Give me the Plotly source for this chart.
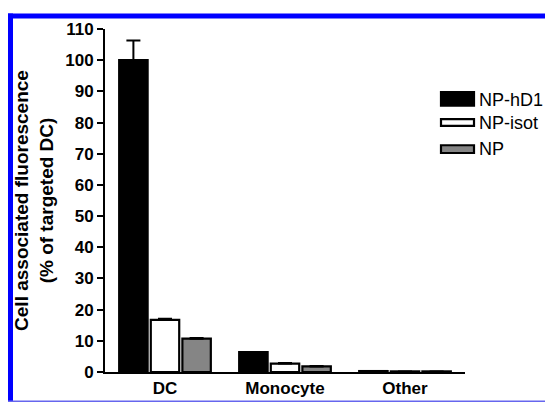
import plotly.graph_objects as go

categories = ["DC", "Monocyte", "Other"]
series_names = ["NP-hD1", "NP-isot", "NP"]
np_hd1 = [100.0, 6.4, 0.3]
np_isot = [16.7, 2.7, 0.2]
np_plain = [10.7, 1.8, 0.2]
err_hd1 = [6.3, 0.0, 0.0]
err_isot = [0.4, 0.2, 0.0]
err_plain = [0.2, 0.1, 0.0]
y_ticks = list(range(0, 111, 10))

values = [np_hd1, np_isot, np_plain]
errors = [err_hd1, err_isot, err_plain]
fills = ["#000000", "#ffffff", "#858585"]

# the page body has an 8px margin, so the figure starts at (8, 8) of the window
OFF = 8
W, H = 553 - OFF, 410 - OFF
PLOT_L, PLOT_R, PLOT_T, PLOT_B = 105, 465, 25, 379   # window pixels
ML, MR = PLOT_L - OFF, W - (PLOT_R - OFF)
MT, MB = PLOT_T - OFF, H - (PLOT_B - OFF)
PW, PH = W - ML - MR, H - MT - MB


def px_x(x):
    return (x - PLOT_L) / PW


def px_y(y):
    return (PLOT_B - y) / PH


fig = go.Figure()
for name, vals, err, col in zip(series_names, values, errors, fills):
    fig.add_trace(go.Bar(
        x=categories, y=vals, name=name,
        marker=dict(color=col, line=dict(color="#000000", width=2.2)),
        error_y=dict(type="data", array=err, arrayminus=[0] * len(err),
                     symmetric=False, color="#000000", thickness=2, width=7),
        showlegend=False,
    ))

# custom legend (wide rectangles like the original)
leg_rows = [(90, 104, 98), (118, 125, 122), (145, 153, 149)]
for name, col, (y0, y1, yc) in zip(series_names, fills, leg_rows):
    fig.add_shape(type="rect", xref="paper", yref="paper",
                  x0=px_x(441), x1=px_x(474), y0=px_y(y1), y1=px_y(y0),
                  fillcolor=col, line=dict(color="#000000", width=2.2))
    fig.add_annotation(xref="paper", yref="paper", x=px_x(477), y=px_y(yc),
                       text=name, showarrow=False, xanchor="left", yanchor="middle",
                       font=dict(family="Liberation Sans, Arial", size=18, color="#000000"))

# blue frame around the figure
frame = [
    (8, 11.5, 553, 11.5, 5, "#0000ff"),
    (10.5, 9, 10.5, 410, 5, "#0000ff"),
    (552, 9, 552, 410, 1.5, "#6666ee"),
    (8, 409.3, 553, 409.3, 1.5, "#6666ee"),
]
for x0, y0, x1, y1, w, c in frame:
    fig.add_shape(type="line", xref="paper", yref="paper",
                  x0=px_x(x0), y0=px_y(y0), x1=px_x(x1), y1=px_y(y1),
                  line=dict(color=c, width=w))

fig.update_layout(
    width=W, height=H,
    margin=dict(l=ML, r=MR, t=MT, b=MB, pad=0),
    paper_bgcolor="white", plot_bgcolor="white",
    barmode="group", bargap=0.21, bargroupgap=0.1,
    font=dict(family="Liberation Sans, Arial", color="#000000"),
    xaxis=dict(range=[-0.5, 2.5], showline=True, linewidth=2, linecolor="#000000",
               ticks="", showgrid=False, zeroline=False,
               tickfont=dict(size=17, weight="bold")),
    yaxis=dict(range=[0, 110], tickvals=y_ticks, showline=True, linewidth=2,
               linecolor="#000000", ticks="outside", ticklen=6, tickwidth=2,
               tickcolor="#000000", showgrid=False, zeroline=False,
               tickfont=dict(size=17, weight="bold"),
               title=dict(text="Cell associated fluorescence<br>(% of targeted DC)",
                          font=dict(size=19, weight="bold"), standoff=7)),
)

fig.write_html("out.html")
